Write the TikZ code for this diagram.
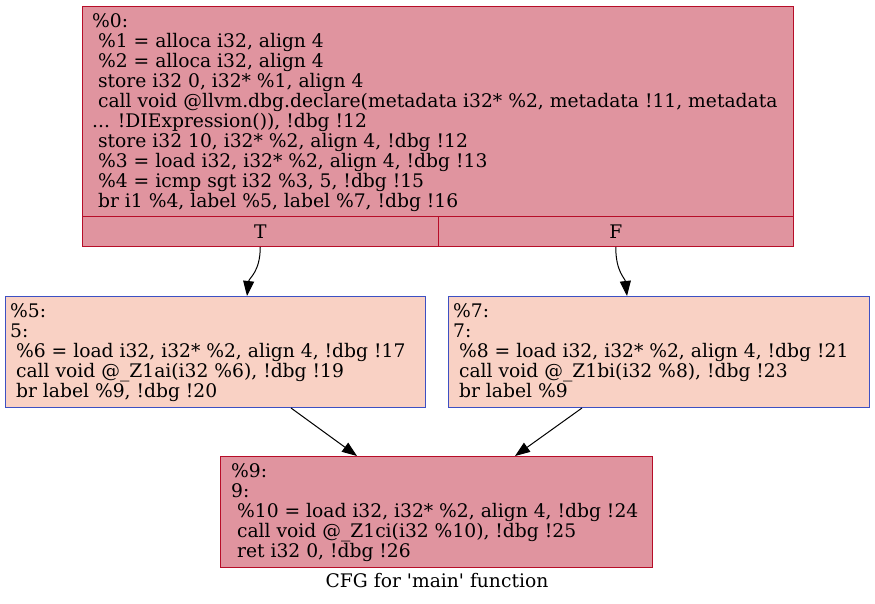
\documentclass[tikz,border=0pt]{standalone}
\usepackage{fontspec}
\setmainfont{DejaVu Serif}[Ligatures=TeXOff]
\usetikzlibrary{arrows.meta,calc}
\definecolor{hotfill}{HTML}{E0949F}
\definecolor{hotline}{HTML}{B70D28}
\definecolor{warmfill}{HTML}{F9D1C4}
\definecolor{coolline}{HTML}{3D50C3}
\newcommand\myind{\hspace*{5.9pt}}
\begin{document}
\begin{tikzpicture}[x=1pt,y=-1pt,
  hotbox/.style={draw=hotline,fill=hotfill,line width=1pt,inner sep=0,anchor=north west},
  warmbox/.style={draw=coolline,fill=warmfill,line width=1pt,inner sep=0,anchor=north west},
  code/.style={font=\fontsize{18.7}{20}\selectfont,align=left,inner sep=0,anchor=north west},
  cell/.style={font=\fontsize{18.7}{20}\selectfont,inner sep=0},
  edge/.style={draw=black,line width=1pt,-{Triangle[length=15pt,width=11pt]}}]
\useasboundingbox[fill=white] (0,0) rectangle (875,604);
% top block
\node[hotbox,minimum width=711pt,minimum height=210pt] (b0) at (82,6) {};
\node[hotbox,minimum width=355.5pt,minimum height=30pt] (bT) at (82,216) {};
\node[hotbox,minimum width=355.5pt,minimum height=30pt] (bF) at (437.5,216) {};
\node[cell] (lT) at (bT) {T};
\node[cell] (lF) at (bF) {F};
\node[code] (c0) at (92,13) {\%0:\\
\myind\%1 = alloca i32, align 4\\
\myind\%2 = alloca i32, align 4\\
\myind store i32 0, i32* \%1, align 4\\
\myind call void @llvm.dbg.declare(metadata i32* \%2, metadata !11, metadata\\
... !DIExpression()), !dbg !12\\
\myind store i32 10, i32* \%2, align 4, !dbg !12\\
\myind\%3 = load i32, i32* \%2, align 4, !dbg !13\\
\myind\%4 = icmp sgt i32 \%3, 5, !dbg !15\\
\myind br i1 \%4, label \%5, label \%7, !dbg !16};
% middle blocks
\node[warmbox,minimum width=420pt,minimum height=111pt] (b5) at (5,296) {};
\node[code] (c5) at (10,303) {\%5:\\
5:\\
\myind\%6 = load i32, i32* \%2, align 4, !dbg !17\\
\myind call void @\_Z1ai(i32 \%6), !dbg !19\\
\myind br label \%9, !dbg !20};
\node[warmbox,minimum width=421pt,minimum height=111pt] (b7) at (448,296) {};
\node[code] (c7) at (453,303) {\%7:\\
7:\\
\myind\%8 = load i32, i32* \%2, align 4, !dbg !21\\
\myind call void @\_Z1bi(i32 \%8), !dbg !23\\
\myind br label \%9};
% bottom block
\node[hotbox,minimum width=432pt,minimum height=111pt] (b9) at (220,456) {};
\node[code] (c9) at (231,463) {\%9:\\
9:\\
\myind\%10 = load i32, i32* \%2, align 4, !dbg !24\\
\myind call void @\_Z1ci(i32 \%10), !dbg !25\\
\myind ret i32 0, !dbg !26};
\node[cell,anchor=center] (cap) at (437,581) {CFG for 'main' function};
% edges
\draw[edge] (bT.south) .. controls +(0,25) and +(2,-18) .. ($(b5.north west)+(242,0)$);
\draw[edge] (bF.south) .. controls +(0,25) and +(-2,-18) .. ($(b7.north west)+(179,0)$);
\draw[edge] ($(b5.south west)+(286,0)$) -- ($(b9.north west)+(137,0)$);
\draw[edge] ($(b7.south west)+(134,0)$) -- ($(b9.north west)+(295,0)$);
\end{tikzpicture}
\end{document}
